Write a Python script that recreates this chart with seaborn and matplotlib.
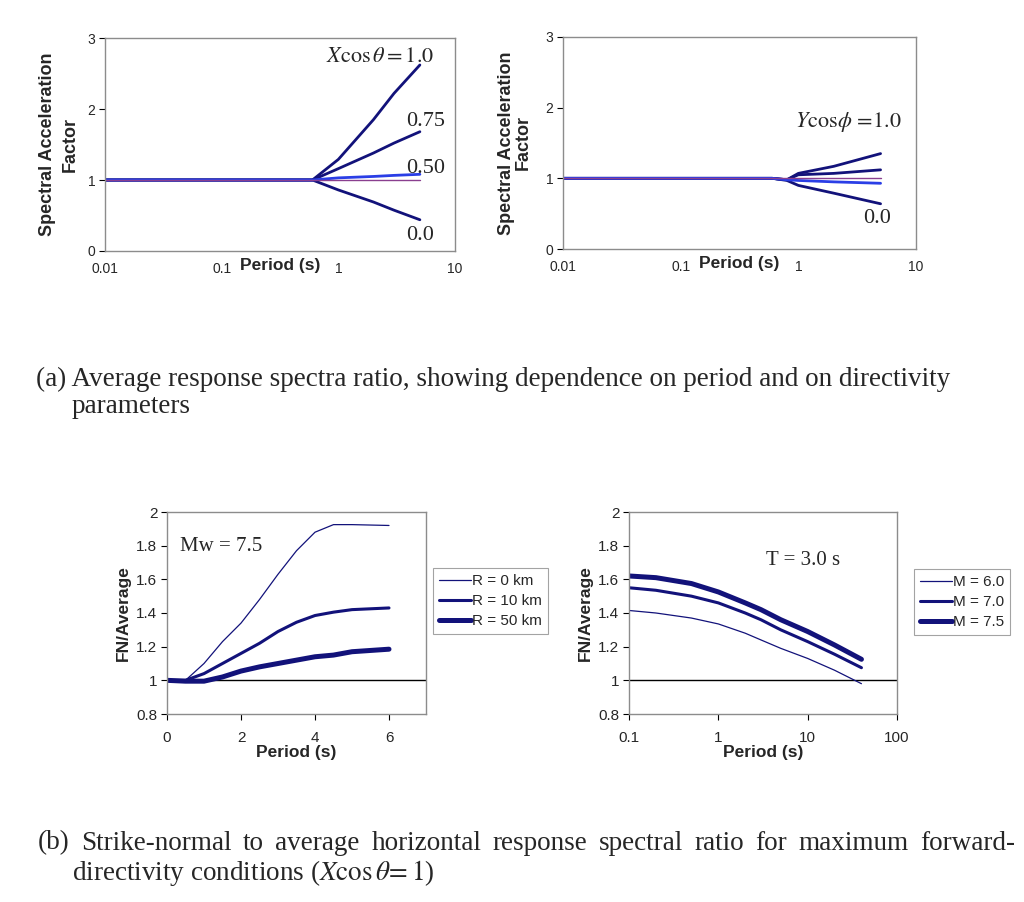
import numpy as np
import pandas as pd
import matplotlib
matplotlib.use("Agg")
import matplotlib.pyplot as plt
import seaborn as sns

# --- Daten ---
# (a) links: X cos(theta)
t_x = [0.01, 0.1, 0.6, 1.0, 2.0, 3.0, 5.0]
x_10 = [1.0, 1.0, 1.0, 1.29, 1.85, 2.22, 2.62]
x_075 = [1.0, 1.0, 1.0, 1.16, 1.38, 1.52, 1.68]
x_050 = [1.0, 1.0, 1.0, 1.03, 1.05, 1.065, 1.08]
x_ref = [1.0, 1.0, 1.0, 1.0, 1.0, 1.0, 1.0]
x_00 = [1.0, 1.0, 1.0, 0.86, 0.69, 0.575, 0.44]

# (a) rechts: Y cos(phi)
t_y = [0.01, 0.1, 0.6, 0.8, 1.0, 2.0, 5.0]
y_10 = [1.0, 1.0, 1.0, 0.98, 1.07, 1.17, 1.35]
y_2 = [1.0, 1.0, 1.0, 0.98, 1.05, 1.07, 1.12]
y_ref = [1.0, 1.0, 1.0, 1.0, 1.0, 1.0, 1.0]
y_3 = [1.0, 1.0, 1.0, 0.98, 0.97, 0.95, 0.93]
y_00 = [1.0, 1.0, 1.0, 0.97, 0.90, 0.79, 0.64]

# (b) links: Mw = 7.5, Abstand R
p_r = [0, 0.5, 1.0, 1.5, 2.0, 2.5, 3.0, 3.5, 4.0, 4.5, 5.0, 6.0]
r_0 = [1.0, 1.0, 1.10, 1.23, 1.34, 1.48, 1.63, 1.77, 1.88, 1.925, 1.925, 1.92]
r_10 = [1.0, 1.0, 1.04, 1.10, 1.16, 1.22, 1.29, 1.345, 1.385, 1.405, 1.42, 1.43]
r_50 = [1.0, 0.995, 0.995, 1.02, 1.055, 1.08, 1.10, 1.12, 1.14, 1.15, 1.17, 1.185]
r_labels = ["R = 0 km", "R = 10 km", "R = 50 km"]

# (b) rechts: T = 3.0 s, Magnitude
p_m = [0.1, 0.2, 0.5, 1, 2, 3, 5, 10, 20, 40]
m_60 = [1.415, 1.40, 1.37, 1.335, 1.28, 1.24, 1.19, 1.13, 1.06, 0.98]
m_70 = [1.55, 1.535, 1.50, 1.46, 1.40, 1.36, 1.30, 1.23, 1.155, 1.075]
m_75 = [1.62, 1.61, 1.575, 1.525, 1.46, 1.42, 1.36, 1.29, 1.21, 1.125]
m_labels = ["M = 6.0", "M = 7.0", "M = 7.5"]

cap_a1 = "(a) Average response spectra ratio, showing dependence on period and on directivity"
cap_a2 = "parameters"
cap_b1 = "(b) Strike-normal to average horizontal response spectral ratio for maximum forward-"
cap_b2 = r"directivity conditions ($X\mathrm{cos}\,\theta\!= 1$)"

NAVY = "#12127a"
BLUE = "#2a3ee6"
PURPLE = "#8a3f8f"
GREY = "#8c8c8c"

sns.set_theme(style="white")
plt.rcParams["font.family"] = ["Liberation Sans", "DejaVu Sans"]
plt.rcParams["mathtext.fontset"] = "stix"
plt.rcParams["xtick.bottom"] = True
plt.rcParams["ytick.left"] = True

fig = plt.figure(figsize=(10.24, 9.02), dpi=100)
W, H = 1024, 902


def add_ax(l, t, r, b):
    return fig.add_axes([l / W, 1 - b / H, (r - l) / W, (b - t) / H])


def style_ax(ax, size):
    for s in ax.spines.values():
        s.set_color(GREY)
        s.set_linewidth(1.0)
    ax.tick_params(axis="both", which="major", length=4, width=0.8, color="black",
                   labelsize=size, pad=3, direction="out")
    ax.tick_params(axis="both", which="minor", length=0)


def line(ax, x, y, color, lw, label=None):
    sns.lineplot(x=x, y=y, ax=ax, color=color, linewidth=lw, label=label,
                 sort=False, estimator=None)


serif = ["Liberation Serif", "DejaVu Serif"]

# ---------- (a) links ----------
ax1 = add_ax(105, 38, 455, 251)
line(ax1, t_x, x_10, NAVY, 2.0)
line(ax1, t_x, x_075, NAVY, 2.0)
line(ax1, t_x, x_00, NAVY, 2.0)
line(ax1, t_x, x_050, BLUE, 2.0)
line(ax1, t_x, x_ref, PURPLE, 1.0)

# ---------- (a) rechts ----------
ax2 = add_ax(563, 37, 916, 249)
line(ax2, t_y, y_10, NAVY, 2.0)
line(ax2, t_y, y_2, NAVY, 2.0)
line(ax2, t_y, y_00, NAVY, 2.0)
line(ax2, t_y, y_3, BLUE, 2.0)
line(ax2, t_y, y_ref, PURPLE, 1.0)

for ax, lsp, pad in ((ax1, 1.45, 6), (ax2, 0.95, 10)):
    ax.set_xscale("log")
    ax.set_xlim(0.01, 10)
    ax.set_ylim(0, 3)
    ax.set_xticks([0.01, 0.1, 1, 10])
    ax.set_xticklabels(["0.01", "0.1", "1", "10"])
    ax.set_yticks([0, 1, 2, 3])
    style_ax(ax, 10)
    ax.tick_params(axis="x", length=0, pad=8)
    ax.set_xlabel("Period (s)", fontsize=12.5, fontweight="bold", labelpad=-13)
    ax.set_ylabel("Spectral Acceleration\nFactor", fontsize=13, fontweight="bold",
                  labelpad=pad, linespacing=lsp)

ax1.text(0.94, 0.915, r"$X\mathrm{cos}\,\theta = \mathrm{1.0}$", transform=ax1.transAxes,
         ha="right", va="center", fontsize=16)
ax1.text(0.86, 0.61, "0.75", transform=ax1.transAxes, ha="left", va="center",
         fontsize=16, family=serif)
ax1.text(0.86, 0.385, "0.50", transform=ax1.transAxes, ha="left", va="center",
         fontsize=16, family=serif)
ax1.text(0.86, 0.075, "0.0", transform=ax1.transAxes, ha="left", va="center",
         fontsize=16, family=serif)

ax2.text(0.96, 0.60, r"$Y\mathrm{cos}\phi\,=\!1.0$", transform=ax2.transAxes,
         ha="right", va="center", fontsize=16)
ax2.text(0.85, 0.145, "0.0", transform=ax2.transAxes, ha="left", va="center",
         fontsize=16, family=serif)

# ---------- (b) links ----------
ax3 = add_ax(167, 512, 426, 714)
ax3.axhline(1.0, color="black", linewidth=1.0)
line(ax3, p_r, r_0, NAVY, 0.9, r_labels[0])
line(ax3, p_r, r_10, NAVY, 2.2, r_labels[1])
line(ax3, p_r, r_50, NAVY, 3.6, r_labels[2])
ax3.set_xlim(0, 7)
ax3.set_xticks([0, 2, 4, 6])
ax3.text(0.05, 0.83, "Mw = 7.5", transform=ax3.transAxes, ha="left", va="center",
         fontsize=15, family=serif)

# ---------- (b) rechts ----------
ax4 = add_ax(629, 512, 897, 714)
ax4.axhline(1.0, color="black", linewidth=1.0)
line(ax4, p_m, m_60, NAVY, 0.9, m_labels[0])
line(ax4, p_m, m_70, NAVY, 2.2, m_labels[1])
line(ax4, p_m, m_75, NAVY, 3.6, m_labels[2])
ax4.set_xscale("log")
ax4.set_xlim(0.1, 100)
ax4.set_xticks([0.1, 1, 10, 100])
ax4.set_xticklabels(["0.1", "1", "10", "100"])
ax4.text(0.51, 0.76, "T = 3.0 s", transform=ax4.transAxes, ha="left", va="center",
         fontsize=15, family=serif)

for ax, anchor in ((ax3, (433, 568)), (ax4, (914, 569))):
    ax.set_ylim(0.8, 2.0)
    ax.set_yticks([0.8, 1.0, 1.2, 1.4, 1.6, 1.8, 2.0])
    ax.set_yticklabels(["0.8", "1", "1.2", "1.4", "1.6", "1.8", "2"])
    style_ax(ax, 11)
    ax.tick_params(axis="x", pad=8)
    ax.set_xlabel("Period (s)", fontsize=12.5, fontweight="bold", labelpad=0)
    ax.set_ylabel("FN/Average", fontsize=12.5, fontweight="bold", labelpad=4)
    leg = ax.legend(loc="upper left", bbox_to_anchor=(anchor[0] / W, 1 - anchor[1] / H),
                    bbox_transform=fig.transFigure, frameon=True, fancybox=False,
                    fontsize=11, handlelength=2.1, handletextpad=0.05,
                    borderpad=0.4, labelspacing=0.4, borderaxespad=0)
    leg.get_frame().set_edgecolor(GREY)
    leg.get_frame().set_linewidth(0.8)

# ---------- Bildunterschriften ----------
CAP = 19.5
fig.text(36 / W, 1 - 379 / H, cap_a1, ha="left", va="center", fontsize=CAP, family=serif)
fig.text(72 / W, 1 - 407 / H, cap_a2, ha="left", va="center", fontsize=CAP, family=serif)
fig.text(72 / W, 1 - 873 / H, cap_b2, ha="left", va="center", fontsize=CAP, family=serif)

# erste Zeile von (b) im Blocksatz zwischen x=38 und x=1015
renderer = fig.canvas.get_renderer()
words = cap_b1.split(" ")
texts = [fig.text(0, 1 - 843 / H, w, ha="left", va="center", fontsize=CAP, family=serif)
         for w in words]
widths = [t.get_window_extent(renderer).width for t in texts]
gap = (1015 - 38 - sum(widths)) / (len(words) - 1)
xpos = 38.0
for t, w in zip(texts, widths):
    t.set_x(xpos / W)
    xpos += w + gap

fig.savefig("out.png", dpi=100, facecolor="white")
